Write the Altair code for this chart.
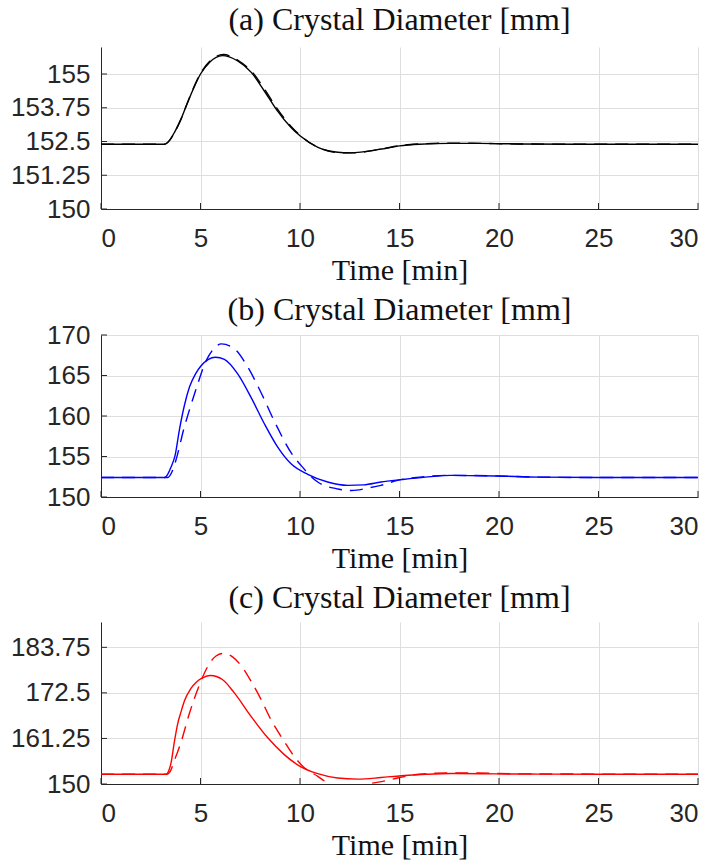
import altair as alt
import pandas as pd

# ---------------- data ----------------
x_ticks = [0, 5, 10, 15, 20, 25, 30]

# (a) black
t_a_solid = [0, 3.2, 3.45, 3.7, 4.0, 4.3, 4.6, 5.0, 5.45, 6.1, 6.85, 7.55, 8.2, 8.8, 9.55, 10.0, 10.9, 11.9, 12.5, 14.1, 15.0, 16.0, 17.5, 19.0, 21.0, 24.0, 30.0]
v_a_solid = [152.4, 152.4, 152.55, 152.85, 153.3, 153.85, 154.38, 155.0, 155.43, 155.68, 155.49, 155.06, 154.38, 153.7, 153.02, 152.71, 152.28, 152.1, 152.08, 152.22, 152.34, 152.4, 152.43, 152.43, 152.41, 152.4, 152.4]
t_a_dash = [0, 3.2, 3.45, 3.7, 4.0, 4.3, 4.6, 5.0, 5.45, 6.15, 6.9, 7.6, 8.25, 8.85, 9.6, 10.05, 10.95, 11.9, 12.6, 14.1, 15.0, 16.0, 17.5, 19.0, 21.0, 24.0, 30.0]
v_a_dash = [152.4, 152.4, 152.54, 152.84, 153.29, 153.85, 154.4, 155.02, 155.46, 155.72, 155.5, 155.07, 154.4, 153.72, 153.02, 152.7, 152.27, 152.09, 152.08, 152.22, 152.35, 152.41, 152.44, 152.43, 152.41, 152.4, 152.4]
ticks_a = [150, 151.25, 152.5, 153.75, 155]

# (b) blue
t_b_solid = [0, 3.2, 3.35, 3.52, 3.72, 3.94, 4.19, 4.45, 4.75, 5.03, 5.4, 5.75, 6.2, 6.87, 7.54, 8.21, 8.88, 9.55, 10.39, 11.39, 12.4, 13.2, 14.07, 15.08, 16.3, 17.6, 19.9, 22.0, 25.0, 30.0]
v_b_solid = [152.4, 152.4, 152.8, 153.7, 155.1, 158.3, 161.3, 163.6, 165.2, 166.2, 167.0, 167.25, 167.0, 165.2, 162.3, 159.04, 156.16, 154.1, 152.8, 151.85, 151.44, 151.5, 151.85, 152.14, 152.45, 152.67, 152.59, 152.45, 152.4, 152.4]
t_b_dash = [0, 3.35, 3.6, 3.85, 4.15, 4.45, 4.8, 5.3, 5.7, 6.05, 6.7, 7.29, 8.04, 8.8, 9.6, 10.05, 10.89, 11.81, 12.6, 13.4, 14.07, 14.9, 16.0, 17.4, 19.5, 22.0, 25.0, 30.0]
v_b_dash = [152.4, 152.4, 153.3, 155.3, 158.3, 160.8, 163.5, 166.9, 168.4, 168.9, 168.3, 166.4, 162.9, 158.9, 155.3, 153.9, 151.85, 151.03, 150.8, 151.1, 151.44, 152.06, 152.45, 152.67, 152.62, 152.45, 152.4, 152.4]
ticks_b = [150, 155, 160, 165, 170]

# (c) red
t_c_solid = [0, 3.27, 3.4, 3.52, 3.69, 3.85, 4.02, 4.19, 4.52, 4.8, 5.03, 5.5, 6.1, 6.7, 7.54, 8.38, 9.21, 10.0, 10.89, 11.89, 12.9, 14.07, 15.08, 16.3, 17.6, 19.9, 22.0, 25.0, 30.0]
v_c_solid = [152.4, 152.4, 153.2, 155.2, 160.5, 164.8, 167.8, 170.5, 173.6, 175.2, 176.0, 176.8, 175.8, 172.5, 166.7, 161.4, 157.25, 154.36, 152.55, 151.48, 151.2, 151.6, 152.05, 152.4, 152.6, 152.5, 152.45, 152.4, 152.4]
t_c_dash = [0, 3.3, 3.5, 3.7, 3.85, 4.02, 4.44, 4.94, 5.36, 5.78, 6.15, 6.61, 7.12, 7.54, 8.04, 8.54, 9.21, 9.71, 10.14, 10.89, 11.39, 12.0, 12.5, 13.4, 14.3, 15.0, 16.0, 17.5, 19.0, 21.0, 25.0, 30.0]
v_c_dash = [152.4, 152.4, 153.3, 156.0, 157.9, 160.3, 167.4, 174.4, 179.0, 181.6, 182.25, 181.4, 178.7, 175.4, 170.9, 165.9, 160.5, 156.8, 154.36, 151.9, 150.25, 149.1, 148.9, 150.0, 150.8, 151.6, 152.4, 152.75, 152.7, 152.5, 152.45, 152.45]
ticks_c = [150, 161.25, 172.5, 183.75]

W, H = 597, 162
AX = "#262626"


def panel(title, color, ts, vs, td, vd, ydom, yticks, toff):
    xs = alt.Scale(domain=[0, 30], nice=False, zero=False)
    ys = alt.Scale(domain=ydom, nice=False, zero=False)
    x_axis = alt.Axis(values=x_ticks, title="Time [min]", grid=True, format="d")
    y_axis = alt.Axis(values=yticks, title=None, grid=True, format=".2~f")
    X = alt.X("t:Q", scale=xs, axis=x_axis)
    Y = alt.Y("v:Q", scale=ys, axis=y_axis)

    solid = alt.Chart(pd.DataFrame({"t": ts, "v": vs})).mark_line(
        color=color, strokeWidth=1.4, clip=True, interpolate="monotone"
    ).encode(x=X, y=Y)

    dashed = alt.Chart(pd.DataFrame({"t": td, "v": vd})).mark_line(
        color=color, strokeWidth=1.4, clip=True, interpolate="monotone", strokeDash=[13, 8]
    ).encode(x=X, y=Y)

    xt = alt.Chart(pd.DataFrame({"t": x_ticks})).mark_rule(color=AX, strokeWidth=1).encode(
        x=X, y=alt.value(H), y2=alt.value(H - 6)
    )
    yt = alt.Chart(pd.DataFrame({"v": yticks})).mark_rule(color=AX, strokeWidth=1).encode(
        y=Y, x=alt.value(0), x2=alt.value(6)
    )
    return alt.layer(solid, dashed, xt, yt).properties(
        width=W, height=H,
        title=alt.TitleParams(title, font="Liberation Serif", fontSize=32, fontWeight="normal",
                              color="#111111", anchor="middle", offset=toff),
    )


pa = panel("(a) Crystal Diameter [mm]", "#000000", t_a_solid, v_a_solid, t_a_dash, v_a_dash, [150, 156], ticks_a, 10)
pb = panel("(b) Crystal Diameter [mm]", "#0000ff", t_b_solid, v_b_solid, t_b_dash, v_b_dash, [150, 170], ticks_b, -5)
pc = panel("(c) Crystal Diameter [mm]", "#ff0000", t_c_solid, v_c_solid, t_c_dash, v_c_dash, [150, 190], ticks_c, 7)

chart = alt.vconcat(pa, pb, pc, spacing=9).properties(
    padding={"left": 10, "top": 4, "right": 0, "bottom": 0}
).configure_view(stroke=None).configure_axis(
    domainColor=AX, domainWidth=1, ticks=False, tickSize=0,
    gridColor="#dedede", gridWidth=1,
    labelFont="Liberation Sans", labelFontSize=26, labelColor=AX, labelPadding=11,
    titleFont="Liberation Serif", titleFontSize=30, titleFontWeight="normal", titleColor="#111111",
    titlePadding=4,
).configure_axisX(labelPadding=16)

chart.save("out.html", embed_options={"renderer": "svg", "actions": False})
